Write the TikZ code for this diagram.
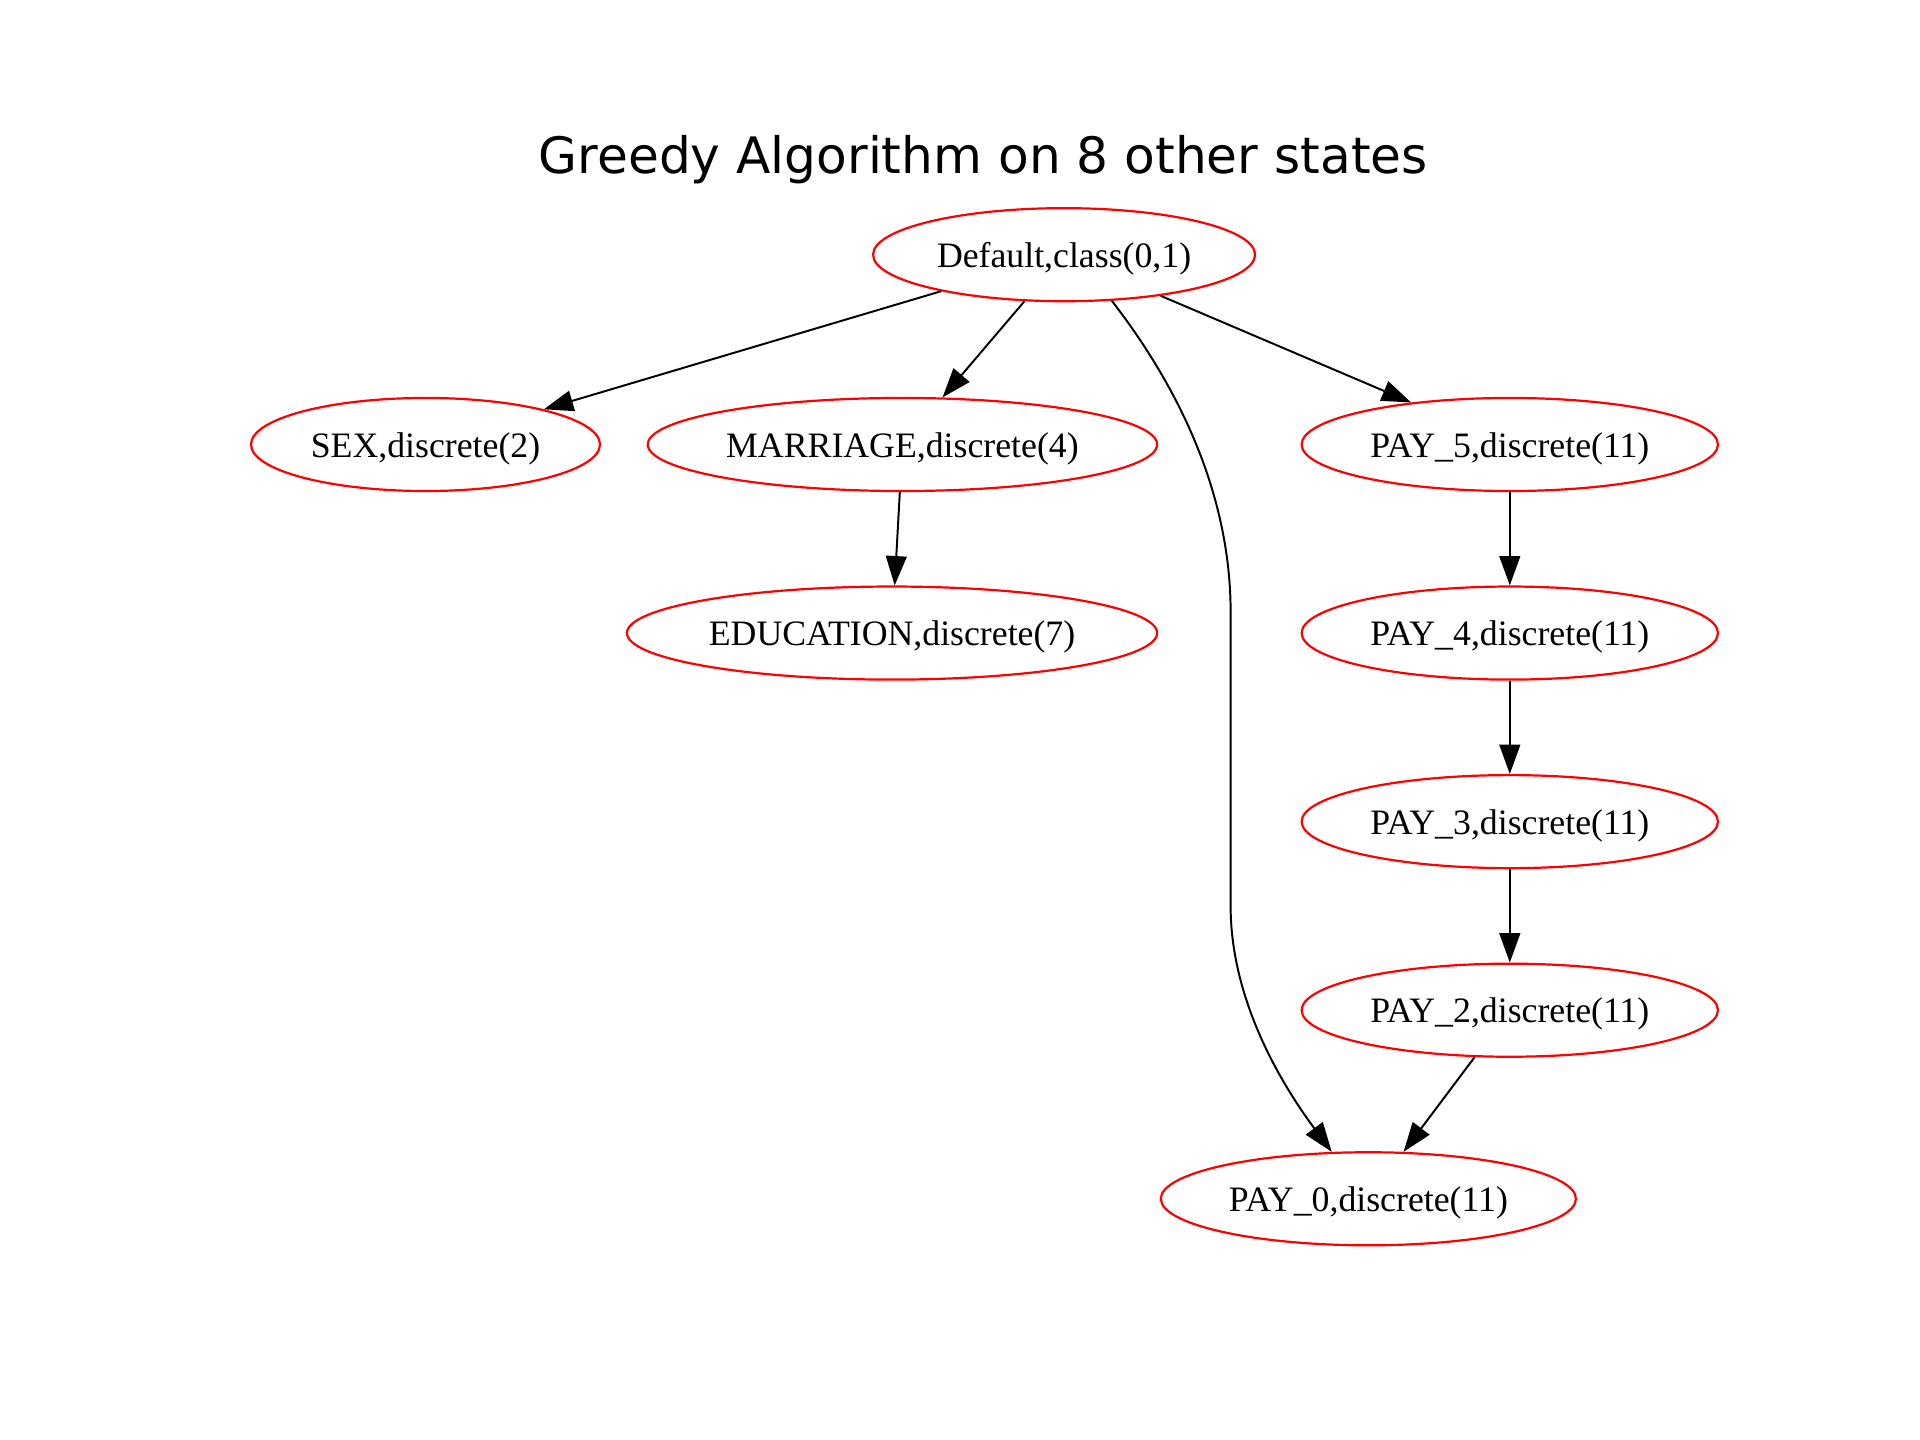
\documentclass[tikz,border=0pt]{standalone}
\usepackage{fontspec}
\setmainfont{Liberation Serif}
\newfontfamily\titlefont{DejaVu Sans}
\usetikzlibrary{shapes.geometric,arrows.meta}
\begin{document}
\begin{tikzpicture}[x=0.5pt,y=-0.5pt,
  state/.style={ellipse, draw=red, line width=0.9pt, inner sep=0pt,
    minimum height=38pt, text height=11pt, text depth=0.6pt,
    font=\fontsize{14.6}{17}\selectfont},
  arr/.style={draw=black, line width=0.8pt,
    -{Triangle[length=12pt,width=8.5pt]}}]
\useasboundingbox (0,0) rectangle (1568,1176);
\node[anchor=base, font=\titlefont\fontsize{20.5}{24}\selectfont] (title) at (803,142) {Greedy Algorithm on 8 other states};
\node[state, minimum width=156pt] (D) at (869,208) {Default,class(0,1)};
\node[state, minimum width=142.5pt] (SEX) at (347.5,363) {SEX,discrete(2)};
\node[state, minimum width=208pt] (MAR) at (737,363) {MARRIAGE,discrete(4)};
\node[state, minimum width=216.5pt] (EDU) at (728.5,517) {EDUCATION,discrete(7)};
\node[state, minimum width=170pt] (P5) at (1233,363) {PAY\_5,discrete(11)};
\node[state, minimum width=170pt] (P4) at (1233,517) {PAY\_4,discrete(11)};
\node[state, minimum width=170pt] (P3) at (1233,671) {PAY\_3,discrete(11)};
\node[state, minimum width=170pt] (P2) at (1233,825) {PAY\_2,discrete(11)};
\node[state, minimum width=169.5pt] (P0) at (1117.5,979) {PAY\_0,discrete(11)};
\draw[arr] (D) -- (SEX);
\draw[arr] (D) -- (MAR);
\draw[arr] (D) -- (P5);
\draw[arr] (MAR) -- (EDU);
\draw[arr] (P5) -- (P4);
\draw[arr] (P4) -- (P3);
\draw[arr] (P3) -- (P2);
\draw[arr] (P2) -- (P0);
\draw[arr] (D.-44) .. controls (950,300) and (1005,390) .. (1005,500)
  -- (1005,740) .. controls (1005,820) and (1050,890) .. (P0.128);
\end{tikzpicture}
\end{document}
